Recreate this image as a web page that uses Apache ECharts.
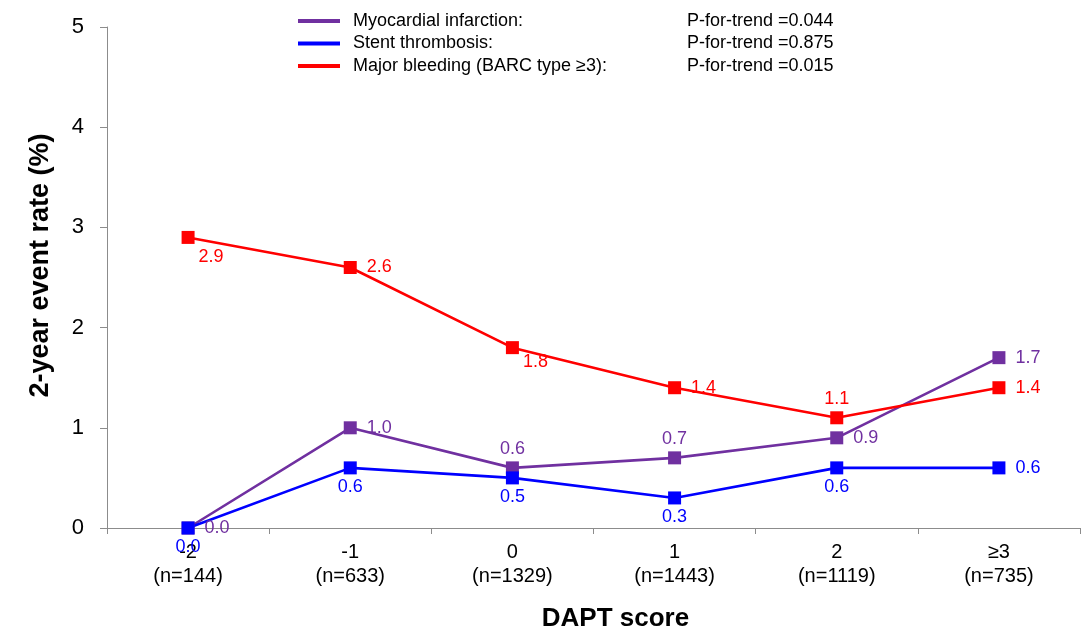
<!DOCTYPE html>
<html>
<head>
  <meta charset="UTF-8" />
  <title>DAPT score event rates</title>
  <script src="https://cdn.jsdelivr.net/npm/echarts@6/dist/echarts.min.js"></script>
  <style>
    body { margin: 0; background: #fff; }
    #chart { width: 1084px; height: 632px; }
  </style>
</head>
<body>
  <div id="chart"></div>
  <script>
    const scores = ['-2', '-1', '0', '1', '2', '≥3'];
    const counts = [144, 633, 1329, 1443, 1119, 735];

    const miValues = [0.0, 1.0, 0.6, 0.7, 0.9, 1.7];
    const stValues = [0.0, 0.6, 0.5, 0.3, 0.6, 0.6];
    const bleedValues = [2.9, 2.6, 1.8, 1.4, 1.1, 1.4];

    const pTrend = {
      'Myocardial infarction:': '0.044',
      'Stent thrombosis:': '0.875',
      'Major bleeding (BARC type ≥3):': '0.015'
    };

    // where each value label sits relative to its marker
    const miLabelPos = ['right', 'right', 'top', 'top', 'right', 'right'];
    const stLabelPos = ['bottom', 'bottom', 'bottom', 'bottom', 'bottom', 'right'];
    const bleedLabelPos = ['below', 'right', 'below', 'right', 'top', 'right'];

    const font = 'Arial, "Liberation Sans", sans-serif';
    const gaps = { right: 10, top: 3, bottom: 4 };
    const belowOffsets = [[17, 17], null, [17, 12]];

    function makeSeries(name, values, positions, color) {
      return {
        name: name,
        type: 'line',
        symbol: 'rect',
        symbolSize: 13,
        lineStyle: { color: color, width: 2.6 },
        itemStyle: { color: color },
        data: values.map((v, i) => ({
          value: v,
          label: positions[i] === 'below'
            ? { position: belowOffsets[i] }
            : { position: positions[i], distance: gaps[positions[i]] }
        })),
        label: {
          show: true,
          color: color,
          fontSize: 18,
          fontFamily: font,
          formatter: p => p.value.toFixed(1)
        }
      };
    }

    const chart = echarts.init(document.getElementById('chart'));
    chart.setOption({
      animation: false,
      grid: { left: 107, right: 4, top: 27, bottom: 104, containLabel: false, outerBoundsMode: 'none' },
      legend: {
        orient: 'vertical',
        left: 293,
        top: 5,
        itemWidth: 42,
        itemHeight: 4,
        itemGap: 0.5,
        icon: 'rect',
        textStyle: {
          fontFamily: font,
          fontSize: 18,
          lineHeight: 22,
          color: '#000',
          rich: {
            n: { width: 334, fontSize: 18, lineHeight: 22, fontFamily: font, color: '#000', padding: [0, 0, 0, 8] },
            p: { fontSize: 18, lineHeight: 22, fontFamily: font, color: '#000' }
          }
        },
        formatter: name => '{n|' + name + '}{p|P-for-trend =' + pTrend[name] + '}'
      },
      xAxis: {
        type: 'category',
        data: scores.map((s, i) => s + '\n(n=' + counts[i] + ')'),
        boundaryGap: true,
        axisLine: { lineStyle: { color: '#8c8c8c', width: 1 } },
        axisTick: { show: true, length: 6, lineStyle: { color: '#8c8c8c' } },
        axisLabel: {
          color: '#000',
          fontSize: 20,
          fontFamily: font,
          lineHeight: 24,
          margin: 12
        },
        name: 'DAPT score',
        nameLocation: 'middle',
        nameGap: 78,
        nameTextStyle: {
          color: '#000', fontSize: 26, fontWeight: 'bold', fontFamily: font,
          padding: [0, 0, 0, 44]
        }
      },
      yAxis: {
        type: 'value',
        min: 0,
        max: 5,
        interval: 1,
        splitLine: { show: false },
        axisLine: { show: true, lineStyle: { color: '#8c8c8c', width: 1 } },
        axisTick: { show: true, length: 7, lineStyle: { color: '#8c8c8c' } },
        axisLabel: { color: '#000', fontSize: 22, fontFamily: font, margin: 23 },
        name: '2-year event rate (%)',
        nameLocation: 'middle',
        nameGap: 53,
        nameTextStyle: {
          color: '#000', fontSize: 27, fontWeight: 'bold', fontFamily: font,
          padding: [0, 0, 0, 24]
        }
      },
      series: [
        makeSeries('Myocardial infarction:', miValues, miLabelPos, '#7030A0'),
        makeSeries('Stent thrombosis:', stValues, stLabelPos, '#0000FF'),
        makeSeries('Major bleeding (BARC type ≥3):', bleedValues, bleedLabelPos, '#FF0000')
      ]
    });
  </script>
</body>
</html>
